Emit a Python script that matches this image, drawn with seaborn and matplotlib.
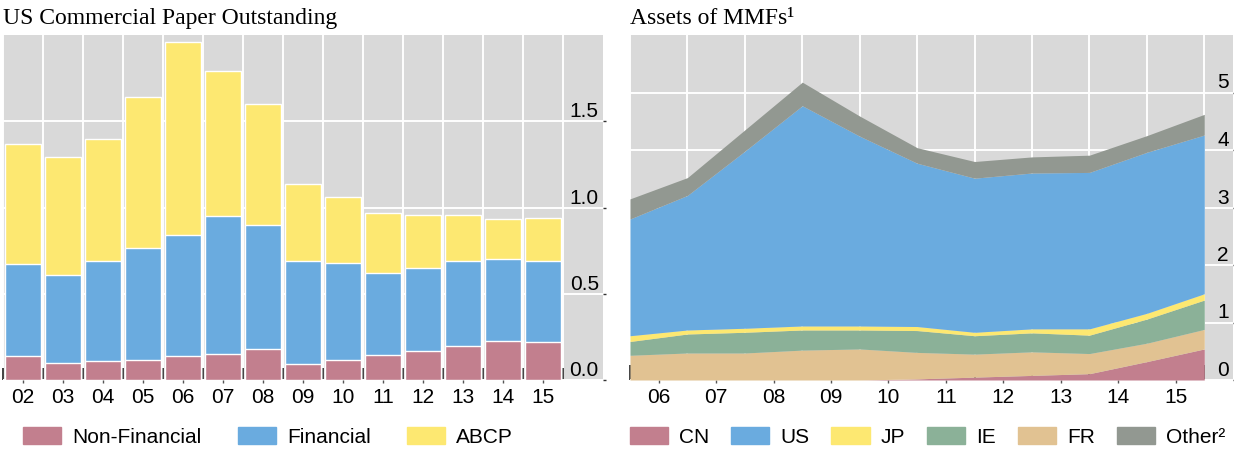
import numpy as np
import pandas as pd
import seaborn as sns
import matplotlib.pyplot as plt
from matplotlib.patches import Patch

# left panel: US commercial paper outstanding (USD trn), stacked segments
cp_years = ['02', '03', '04', '05', '06', '07', '08', '09', '10', '11', '12', '13', '14', '15']
nonfin = [0.139, 0.098, 0.110, 0.118, 0.139, 0.153, 0.180, 0.093, 0.114, 0.145, 0.170, 0.197, 0.226, 0.218]
financial = [0.531, 0.512, 0.577, 0.645, 0.701, 0.797, 0.718, 0.594, 0.564, 0.475, 0.481, 0.492, 0.475, 0.469]
abcp = [0.701, 0.681, 0.709, 0.880, 1.121, 0.840, 0.704, 0.452, 0.380, 0.351, 0.303, 0.265, 0.231, 0.253]

# right panel: assets of MMFs, points at year ends 2005..2015
mmf_years = ['06', '07', '08', '09', '10', '11', '12', '13', '14', '15']
mmf_t = [0, 1, 2, 3, 4, 5, 6, 7, 8, 9, 10]
cn = [0.0, 0.0, 0.0, 0.0, 0.0, 0.02, 0.05, 0.08, 0.11, 0.32, 0.54]
fr = [0.43, 0.47, 0.47, 0.52, 0.54, 0.46, 0.40, 0.41, 0.35, 0.32, 0.34]
ie = [0.24, 0.33, 0.36, 0.35, 0.33, 0.38, 0.32, 0.33, 0.32, 0.42, 0.51]
jp = [0.10, 0.07, 0.07, 0.07, 0.07, 0.07, 0.06, 0.07, 0.11, 0.10, 0.11]
us = [2.03, 2.34, 3.08, 3.83, 3.30, 2.84, 2.68, 2.71, 2.72, 2.80, 2.76]
other = [0.35, 0.31, 0.37, 0.41, 0.35, 0.27, 0.29, 0.28, 0.30, 0.29, 0.36]

pink = '#c27f8e'
blue = '#6aabdf'
yellow = '#fde871'
green = '#8bb198'
tan = '#e1c292'
grey = '#929891'
bg = '#d9d9d9'

sns.set_theme(style='darkgrid', rc={'axes.facecolor': bg, 'grid.color': 'white',
                                    'grid.linewidth': 1.4, 'axes.edgecolor': bg,
                                    'text.color': 'black', 'xtick.color': 'black',
                                    'ytick.color': 'black'})
plt.rcParams['font.family'] = ['Liberation Sans', 'DejaVu Sans']

fig = plt.figure(figsize=(12.34, 4.5), dpi=100)
ax1 = fig.add_axes([3/1234, 70/450, 600/1234, 345/450])
ax2 = fig.add_axes([630/1234, 70/450, 603/1234, 345/450])

# stacked bars drawn as overlapping cumulative bars
df = pd.DataFrame({'year': cp_years, 'nf': nonfin, 'fin': financial, 'abcp': abcp})
df['fin_top'] = df['nf'] + df['fin']
df['total'] = df['fin_top'] + df['abcp']
for col, c in [('total', yellow), ('fin_top', blue), ('nf', pink)]:
    sns.barplot(data=df, x='year', y=col, color=c, saturation=1, width=0.9,
                errorbar=None, ax=ax1, zorder=2)
ax1.set_xlim(-0.5, 14.5)
ax1.set_ylim(0, 2.0)
ax1.set_xlabel('')
ax1.set_ylabel('')
ax1.set_xticks(range(len(cp_years)))
ax1.set_xticklabels(cp_years)
ax1.set_xticks(np.arange(-0.5, 14, 1), minor=True)
ax1.set_yticks([0, 0.5, 1.0, 1.5])
ax1.set_yticklabels(['0.0', '0.5', '1.0', '1.5'])

# stacked area
ax2.stackplot(mmf_t, cn, fr, ie, jp, us, other,
              colors=[pink, tan, green, yellow, blue, grey], zorder=2, lw=0)
ax2.set_xlim(0, 10.5)
ax2.set_ylim(0, 6)
ax2.set_xticks(mmf_t)
ax2.set_xticklabels([''] * len(mmf_t))
ax2.set_xticks(np.arange(0.5, 10, 1), minor=True)
ax2.set_xticklabels(mmf_years, minor=True)
ax2.set_yticks([0, 1, 2, 3, 4, 5])
ax2.set_yticklabels(['0', '1', '2', '3', '4', '5'])

# left: labels on major, grid on minor; right: the other way
ax1.grid(False)
ax1.grid(True, axis='y', which='major')
ax1.grid(True, axis='x', which='minor')
ax1.tick_params(axis='x', which='major', direction='out', length=2, width=1,
                color='#555555', bottom=True, pad=4, labelsize=15)
ax1.tick_params(axis='x', which='minor', direction='in', length=9, width=1.2,
                color='#222222', bottom=True)
ax2.grid(False)
ax2.grid(True, axis='y', which='major')
ax2.grid(True, axis='x', which='major')
ax2.tick_params(axis='x', which='major', direction='in', length=11, width=1.2,
                color='#222222', bottom=True)
ax2.tick_params(axis='x', which='minor', direction='out', length=2, width=1,
                color='#555555', bottom=True, pad=4, labelsize=15)

for ax in (ax1, ax2):
    ax.set_axisbelow(True)
    ax.yaxis.tick_right()
    ax.tick_params(axis='y', which='major', direction='out', length=2, width=1,
                   color='#333333', right=True, left=False, labelright=True,
                   labelleft=False, pad=-5, labelsize=15)
    for lbl in ax.get_yticklabels():
        lbl.set_horizontalalignment('right')
        lbl.set_verticalalignment('bottom')
    for s in ax.spines.values():
        s.set_visible(False)

fig.text(3/1234, 1 - 24/450, 'US Commercial Paper Outstanding',
         family='Liberation Serif', size=17, va='baseline', ha='left')
fig.text(630/1234, 1 - 24/450, 'Assets of MMFs\u00b9',
         family='Liberation Serif', size=17, va='baseline', ha='left')

leg_kw = dict(frameon=False, loc='center left', handlelength=1.83, handleheight=0.82,
              handletextpad=0.53, borderpad=0, borderaxespad=0, fontsize=15)
h1 = [Patch(color=pink), Patch(color=blue), Patch(color=yellow)]
fig.legend(h1, ['Non-Financial', 'Financial', 'ABCP'], ncol=3, columnspacing=1.75,
           bbox_to_anchor=(23/1234, 13/450), **leg_kw)
h2 = [Patch(color=c) for c in (pink, blue, yellow, green, tan, grey)]
fig.legend(h2, ['CN', 'US', 'JP', 'IE', 'FR', 'Other\u00b2'], ncol=6, columnspacing=1.05,
           bbox_to_anchor=(630/1234, 13/450), **leg_kw)

fig.savefig('out.png', dpi=100)
